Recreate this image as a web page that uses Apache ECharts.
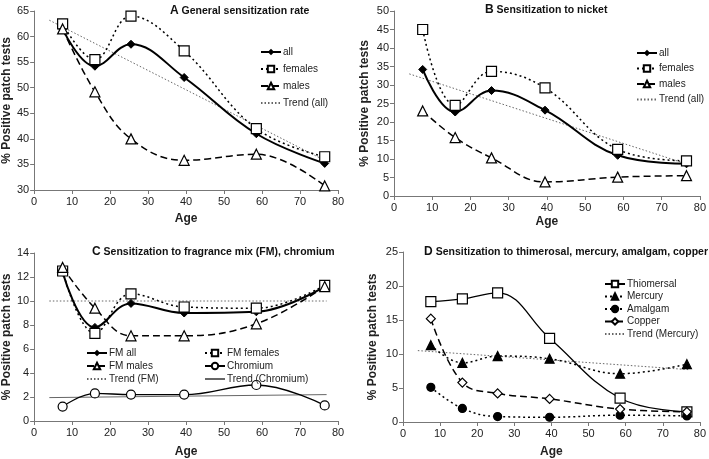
<!DOCTYPE html>
<html>
<head>
<meta charset="utf-8">
<script src="https://cdn.jsdelivr.net/npm/echarts@6/dist/echarts.min.js"></script>
<style>
  html, body { margin: 0; padding: 0; background: #fff; }
  #main { width: 709px; height: 459px; }
</style>
</head>
<body>
<div id="main"></div>
<script>
// age groups (x positions)
const ages = [7.5, 16, 25.5, 39.5, 58.5, 76.5];

// A: general sensitization rate
const aAll = [61.5, 54.2, 58.5, 52.0, 41.0, 35.2];
const aFemales = [62.5, 55.5, 64.0, 57.2, 42.0, 36.5];
const aMales = [61.5, 49.2, 40.0, 35.8, 37.0, 30.8];
const aTrend = [[4, 63.2], [77, 35.6]];

// B: nickel
const bAll = [34.2, 22.7, 28.5, 23.2, 11.0, 8.7];
const bFemales = [45.0, 24.5, 33.7, 29.2, 12.6, 9.5];
const bMales = [23.0, 15.8, 10.3, 3.8, 5.1, 5.5];
const bTrend = [[4, 33.0], [77, 8.5]];

// C: fragrance mix, chromium
const cAll = [12.4, 7.8, 9.8, 9.0, 9.1, 11.2];
const cFemales = [12.5, 7.3, 10.6, 9.5, 9.4, 11.3];
const cMales = [12.8, 9.4, 7.1, 7.1, 8.1, 11.2];
const cChromium = [1.2, 2.3, 2.2, 2.2, 3.0, 1.3];
const cTrendFM = [[4, 10.0], [77, 10.0]];
const cTrendCr = [[4, 1.95], [77, 2.2]];

// D: thimerosal, mercury, amalgam, copper
const dThio = [17.7, 18.1, 19.0, 12.3, 3.5, 1.5];
const dMercury = [11.3, 8.7, 9.7, 9.3, 7.1, 8.5];
const dAmalgam = [5.1, 2.0, 0.8, 0.7, 1.0, 0.9];
const dCopper = [15.2, 5.8, 4.2, 3.4, 1.9, 1.5];
const dTrend = [[4, 10.5], [77, 7.7]];

const font = "'Liberation Sans', Arial, sans-serif";
const pts = vals => vals.map((v, i) => [ages[i], v]);

const myChart = echarts.init(document.getElementById('main'));

function xAx(gi, gap) {
  return {
    type: 'value', gridIndex: gi, min: 0, max: 80, interval: 10,
    name: 'Age', nameLocation: 'middle', nameGap: gap,
    nameTextStyle: { fontFamily: font, fontSize: 12, fontWeight: 'bold', color: '#222' },
    axisLine: { lineStyle: { color: '#777' } },
    axisTick: { length: 4, lineStyle: { color: '#777' } },
    axisLabel: { fontFamily: font, fontSize: 11, color: '#222', margin: 6 },
    splitLine: { show: false }
  };
}
function yAx(gi, min, max, step, gap) {
  return {
    type: 'value', gridIndex: gi, min: min, max: max, interval: step,
    name: '% Positive patch tests', nameLocation: 'middle', nameGap: gap,
    nameTextStyle: { fontFamily: font, fontSize: 12, fontWeight: 'bold', color: '#222' },
    axisLine: { show: true, lineStyle: { color: '#777' } },
    axisTick: { show: true, length: 4, lineStyle: { color: '#777' } },
    axisLabel: { fontFamily: font, fontSize: 11, color: '#222', margin: 5 },
    splitLine: { show: false }
  };
}

// line style presets
function solidThick(name, gi, data, symbol) {
  return { name: name, type: 'line', xAxisIndex: gi, yAxisIndex: gi, data: data, smooth: 0.4,
    symbol: symbol || 'diamond', symbolSize: 8,
    lineStyle: { color: '#000', width: 2 },
    itemStyle: { color: '#000', borderColor: '#000' } };
}
function dotted(name, gi, data, symbol, filled, size) {
  return { name: name, type: 'line', xAxisIndex: gi, yAxisIndex: gi, data: data, smooth: 0.4,
    symbol: symbol, symbolSize: size || 10,
    lineStyle: { color: '#000', width: 1.5, type: [2, 3] },
    itemStyle: { color: filled ? '#000' : '#fff', borderColor: '#000', borderWidth: 1.2 } };
}
function dashed(name, gi, data, symbol, size) {
  return { name: name, type: 'line', xAxisIndex: gi, yAxisIndex: gi, data: data, smooth: 0.4,
    symbol: symbol, symbolSize: size || 10,
    lineStyle: { color: '#000', width: 1.5, type: [7, 4] },
    itemStyle: { color: '#fff', borderColor: '#000', borderWidth: 1.2 } };
}
function solidThin(name, gi, data, symbol, size) {
  return { name: name, type: 'line', xAxisIndex: gi, yAxisIndex: gi, data: data, smooth: 0.4,
    symbol: symbol, symbolSize: size || 10,
    lineStyle: { color: '#000', width: 1.3 },
    itemStyle: { color: '#fff', borderColor: '#000', borderWidth: 1.2 } };
}
function trend(name, gi, data, solid) {
  return { name: name, type: 'line', xAxisIndex: gi, yAxisIndex: gi, data: data,
    symbol: 'none', z: 1,
    lineStyle: { color: '#666', width: 1, type: solid ? 'solid' : [1.5, 2] },
    itemStyle: { color: '#666', opacity: 0 } };
}

function legend(names, left, top, gap) {
  return {
    data: names, orient: 'vertical', left: left, top: top,
    itemWidth: 20, itemHeight: 8, itemGap: gap, padding: 0,
    selectedMode: false,
    textStyle: { fontFamily: font, fontSize: 10, color: '#222', padding: [0, 0, 0, -3] }
  };
}

function title(letter, text, pos, top) {
  return Object.assign({
    text: '{l|' + letter + '} ' + text, top: top, padding: 0,
    textStyle: {
      fontFamily: font, fontSize: 10.5, fontWeight: 'bold', color: '#111',
      rich: { l: { fontFamily: font, fontSize: 12, fontWeight: 'bold', color: '#111' } }
    }
  }, pos);
}

const option = {
  animation: false,
  backgroundColor: '#fff',
  title: [
    title('A', 'General sensitization rate', { left: 170 }, 5),
    title('B', 'Sensitization to nicket', { left: 485 }, 4),
    title('C', 'Sensitization to fragrance mix (FM), chromium', { left: 92 }, 246),
    title('D', 'Sensitization to thimerosal, mercury, amalgam, copper', { right: 1 }, 246)
  ],
  grid: [
    { left: 30, top: 11, width: 308, height: 179 },
    { left: 394, top: 11, width: 309, height: 185 },
    { left: 30, top: 253, width: 308, height: 173 },
    { left: 403, top: 252, width: 300, height: 175 }
  ],
  legend: [
    legend(['all', 'females', 'males', 'Trend (all)'], 260, 47, 7),
    legend(['all', 'females', 'males', 'Trend (all)'], 636, 48, 5.5),
    legend(['FM all', 'FM males', 'Trend (FM)'], 86, 348, 3),
    legend(['FM females', 'Chromium', 'Trend (Chromium)'], 204, 348, 3),
    legend(['Thiomersal', 'Mercury', 'Amalgam', 'Copper', 'Trend (Mercury)'], 604, 279, 2.5)
  ],
  xAxis: [xAx(0, 23), xAx(1, 20), xAx(2, 25), xAx(3, 24)],
  yAxis: [
    yAx(0, 30, 65, 5, 20),
    yAx(1, 0, 50, 5, 23),
    yAx(2, 0, 14, 2, 18),
    yAx(3, 0, 25, 5, 24)
  ],
  series: [
    trend('Trend (all)', 0, aTrend),
    solidThick('all', 0, pts(aAll)),
    dotted('females', 0, pts(aFemales), 'rect', false),
    dashed('males', 0, pts(aMales), 'triangle'),

    trend('Trend (all)', 1, bTrend),
    solidThick('all', 1, pts(bAll)),
    dotted('females', 1, pts(bFemales), 'rect', false),
    dashed('males', 1, pts(bMales), 'triangle'),

    trend('Trend (FM)', 2, cTrendFM),
    trend('Trend (Chromium)', 2, cTrendCr, true),
    solidThick('FM all', 2, pts(cAll)),
    dotted('FM females', 2, pts(cFemales), 'rect', false),
    dashed('FM males', 2, pts(cMales), 'triangle'),
    solidThin('Chromium', 2, pts(cChromium), 'circle', 9),

    trend('Trend (Mercury)', 3, dTrend),
    solidThin('Thiomersal', 3, pts(dThio), 'rect', 10),
    dotted('Mercury', 3, pts(dMercury), 'triangle', true, 9),
    dotted('Amalgam', 3, pts(dAmalgam), 'circle', true, 8),
    dashed('Copper', 3, pts(dCopper), 'diamond', 9)
  ]
};

myChart.setOption(option);
</script>
</body>
</html>
